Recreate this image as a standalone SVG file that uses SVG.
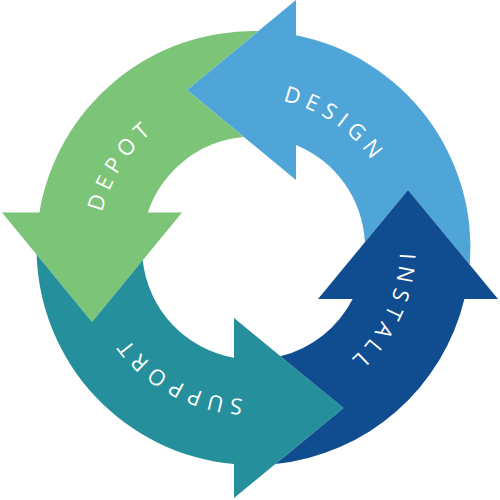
<svg xmlns="http://www.w3.org/2000/svg" xmlns:xlink="http://www.w3.org/1999/xlink" width="500" height="500" viewBox="0 0 500 500">
  <style>
    .lbl { fill: #ffffff; font-family: "Open Sans", "Liberation Sans", sans-serif; font-size: 22px; letter-spacing: 6px; text-anchor: middle; }
  </style>
  <defs>
    <path id="ring" d="M 400,248 A 151 151 0 1 1 98,248 A 151 151 0 1 1 400,248"/>
  </defs>
  <rect width="500" height="500" fill="#ffffff"/>
  <g id="design">
    <path fill="#4fa4d8" d="M 469.8,264.9 L 408,190 L 364.9,242.3 A 111.5 111.5 0 0 0 296,144.9 L 296,180 L 187,90 L 296,0 L 296,35.2 A 217 217 0 0 1 469.8,264.9 Z"/>
    <text class="lbl"><textPath xlink:href="#ring" href="#ring" startOffset="802.8">DESIGN</textPath></text>
  </g>
  <g id="depot">
    <path fill="#7cc478" d="M 39.4,212.5 A 217 217 0 0 1 258.4,31.1 L 187,90 L 243.8,136.9 A 111.5 111.5 0 0 0 147.8,212.5 L 182,212.5 L 92,322 L 2,212.5 Z"/>
    <text class="lbl"><textPath xlink:href="#ring" href="#ring" startOffset="560.4">DEPOT</textPath></text>
  </g>
  <g id="support">
    <path fill="#258f9b" d="M 36.6,254.6 L 92,322 L 142.7,260.3 A 111.5 111.5 0 0 0 234,357.8 L 234,318 L 343.5,408 L 234,498 L 234,464.1 A 217 217 0 0 1 36.6,254.6 Z"/>
    <text class="lbl"><textPath xlink:href="#ring" href="#ring" startOffset="312.9">SUPPORT</textPath></text>
  </g>
  <g id="install">
    <path fill="#104d90" d="M 275.5,463.9 L 343.5,408 L 280.5,356.2 A 111.5 111.5 0 0 0 352.7,299 L 318,299 L 408,190 L 498,299 L 464.4,299 A 217 217 0 0 1 275.5,463.9 Z"/>
    <text class="lbl"><textPath xlink:href="#ring" href="#ring" startOffset="67.6">INSTALL</textPath></text>
  </g>
</svg>
